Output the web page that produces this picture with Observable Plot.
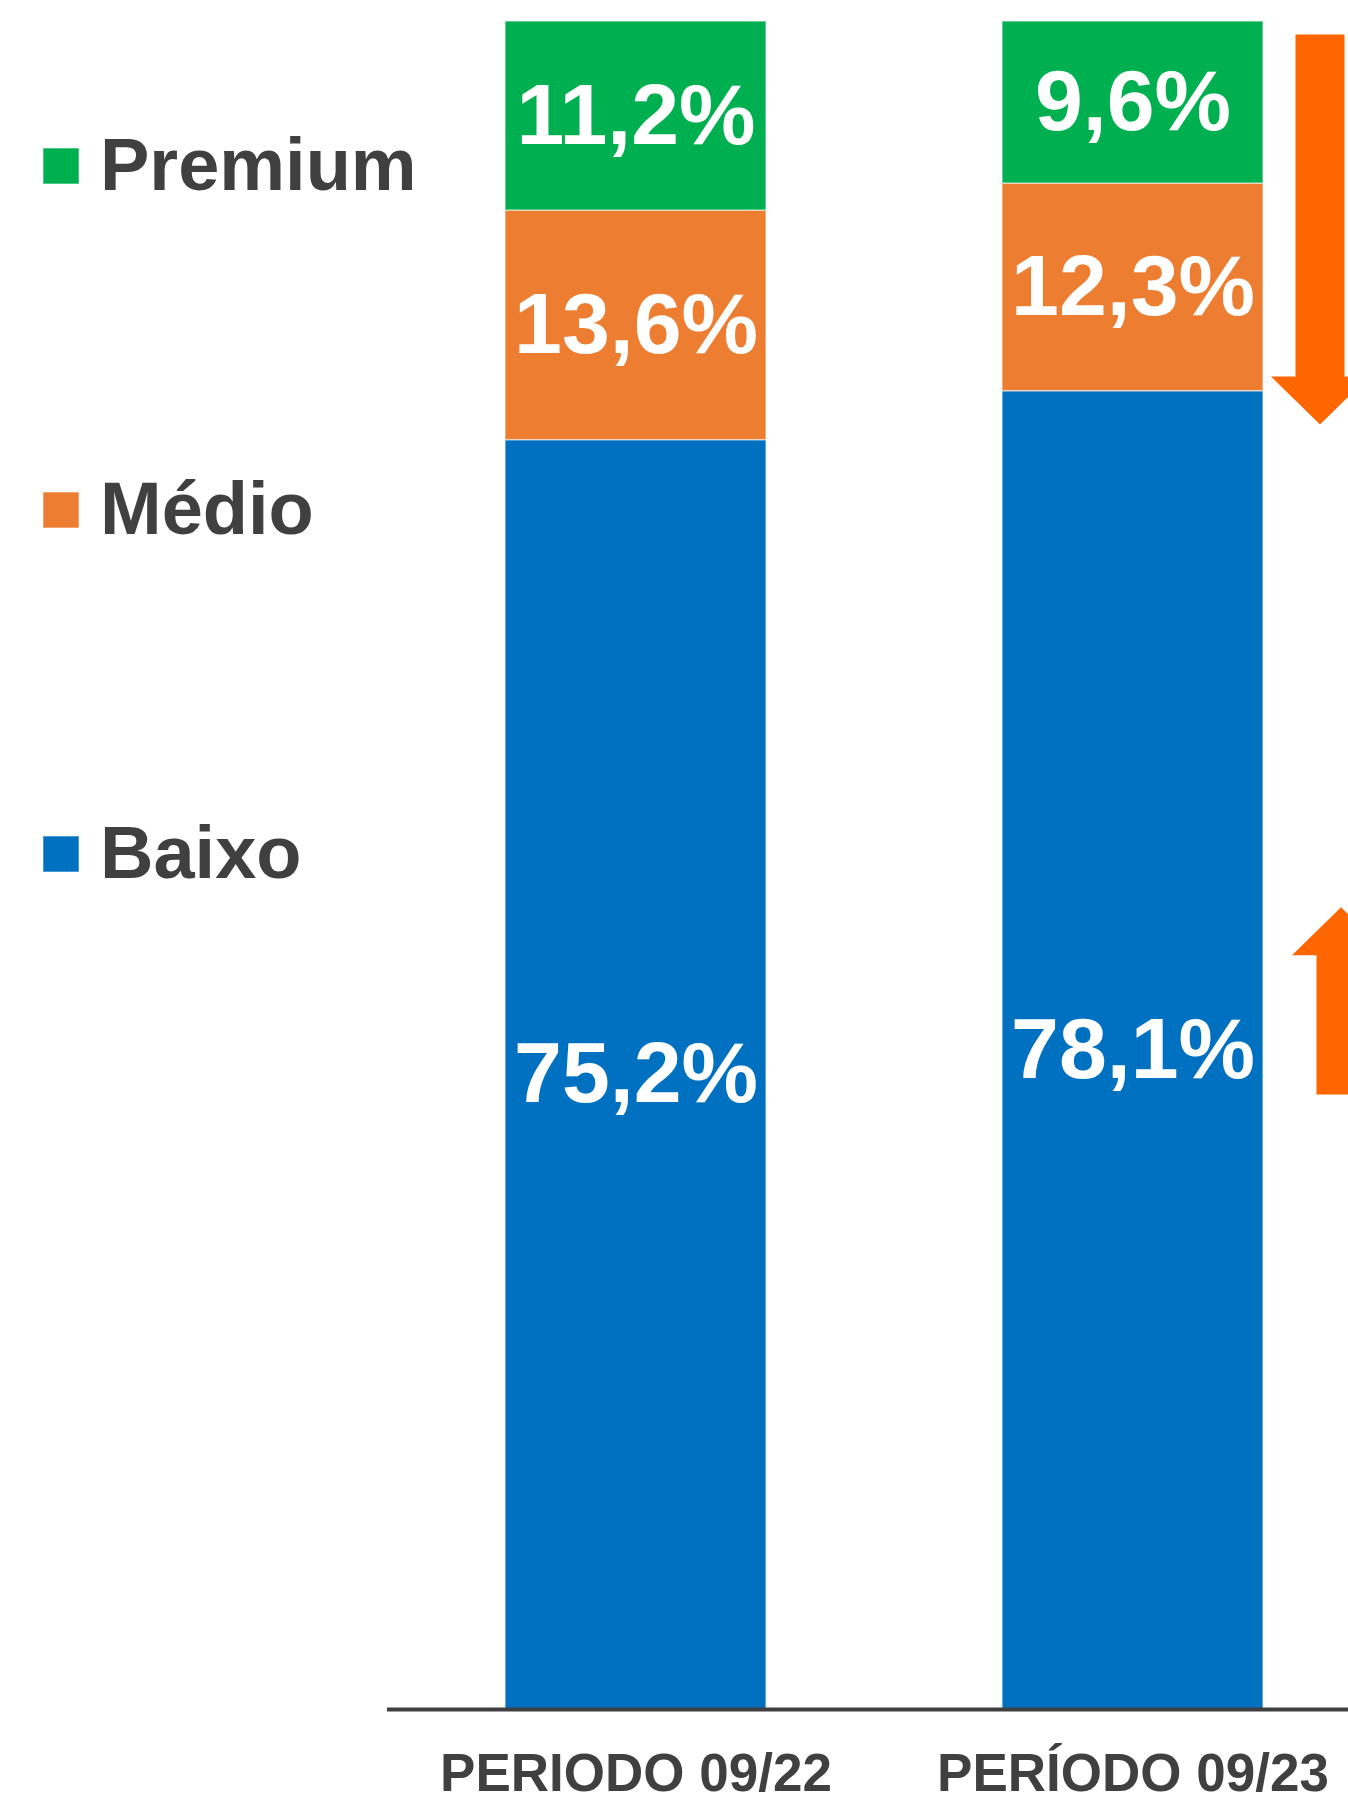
<!DOCTYPE html>
<html>
<head>
<meta charset="utf-8">
<script src="https://cdn.jsdelivr.net/npm/d3@7"></script>
<script src="https://cdn.jsdelivr.net/npm/@observablehq/plot@0.6"></script>
<style>
html, body { margin: 0; padding: 0; background: #fff; }
#chart { width: 1348px; height: 1796px; overflow: hidden; }
</style>
</head>
<body>
<div id="chart"></div>
<script>
// ---- Data ----
const periods = ["PERIODO 09/22", "PERÍODO 09/23"];
const segments = ["Baixo", "Médio", "Premium"];
const baixo = [75.2, 78.1];
const medio = [13.6, 12.3];
const premium = [11.2, 9.6];
const segmentColors = ["#0070C0", "#ED7D31", "#00B050"];
const legendOrder = ["Premium", "Médio", "Baixo"];

const series = {"Baixo": baixo, "Médio": medio, "Premium": premium};
const rows = periods.flatMap((p, i) =>
  segments.map(s => ({period: p, segment: s, value: series[s][i]}))
);
const fmt = v => v.toFixed(1).replace(".", ",") + "%";

const plot = Plot.plot({
  width: 1348,
  height: 1796,
  marginTop: 21,
  marginBottom: 87,
  marginLeft: 387,
  marginRight: 0,
  style: {fontFamily: "'Liberation Sans', Arial, sans-serif", background: "white", overflow: "visible"},
  x: {domain: periods, paddingInner: 0.4748, paddingOuter: 0.2042, align: 0.581, label: null},
  y: {domain: [0, 100], axis: null},
  color: {domain: segments, range: segmentColors},
  marks: [
    Plot.barY(rows, {x: "period", y: "value", fill: "segment", stroke: "white", strokeOpacity: 0.5, strokeWidth: 1.5}),
    Plot.text(rows, Plot.stackY({
      x: "period", y: "value", text: d => fmt(d.value),
      fill: "white", fontSize: 86, fontWeight: "bold"
    })),
    Plot.ruleY([0], {stroke: "#404040", strokeWidth: 4}),
    Plot.axisX({tickSize: 0, tickPadding: 44, fontSize: 53, fontWeight: "bold", fill: "#404040", label: null})
  ]
});

document.getElementById("chart").appendChild(plot);

// ---- Legend and arrow annotations, placed with the plot's scales ----
const svg = d3.select(plot);
const xs = plot.scale("x");
const ys = plot.scale("y");
const cs = plot.scale("color");

const lg = svg.append("g").attr("text-anchor", "start");
legendOrder.forEach((s, i) => {
  const cy = 166 + i * 344;
  lg.append("rect")
    .attr("x", 43).attr("y", cy - 18).attr("width", 36).attr("height", 36)
    .attr("fill", cs.apply(s)).attr("stroke", "white").attr("stroke-opacity", 0.4).attr("stroke-width", 1.5);
  lg.append("text")
    .attr("x", 100).attr("y", cy + 24)
    .attr("text-anchor", "start")
    .attr("font-size", 74).attr("font-weight", "bold").attr("fill", "#404040")
    .text(s);
});

const barRight = xs.apply(periods[1]) + xs.bandwidth;
function arrow(cx, tailVal, tipVal) {
  const yTail = ys.apply(tailVal), yTip = ys.apply(tipVal);
  const sign = yTip > yTail ? 1 : -1;
  const sw = 24.5, hw = 49, hh = 48;
  const yBase = yTip - sign * hh;
  const pts = [
    [cx - sw, yTail], [cx + sw, yTail], [cx + sw, yBase], [cx + hw, yBase],
    [cx, yTip], [cx - hw, yBase], [cx - sw, yBase]
  ];
  svg.append("path")
    .attr("d", "M" + pts.map(p => p.join(",")).join("L") + "Z")
    .attr("fill", "#FF6600");
}
arrow(barRight + 57, 99.2, 76.1);
arrow(barRight + 78, 36.4, 47.5);
</script>
</body>
</html>
